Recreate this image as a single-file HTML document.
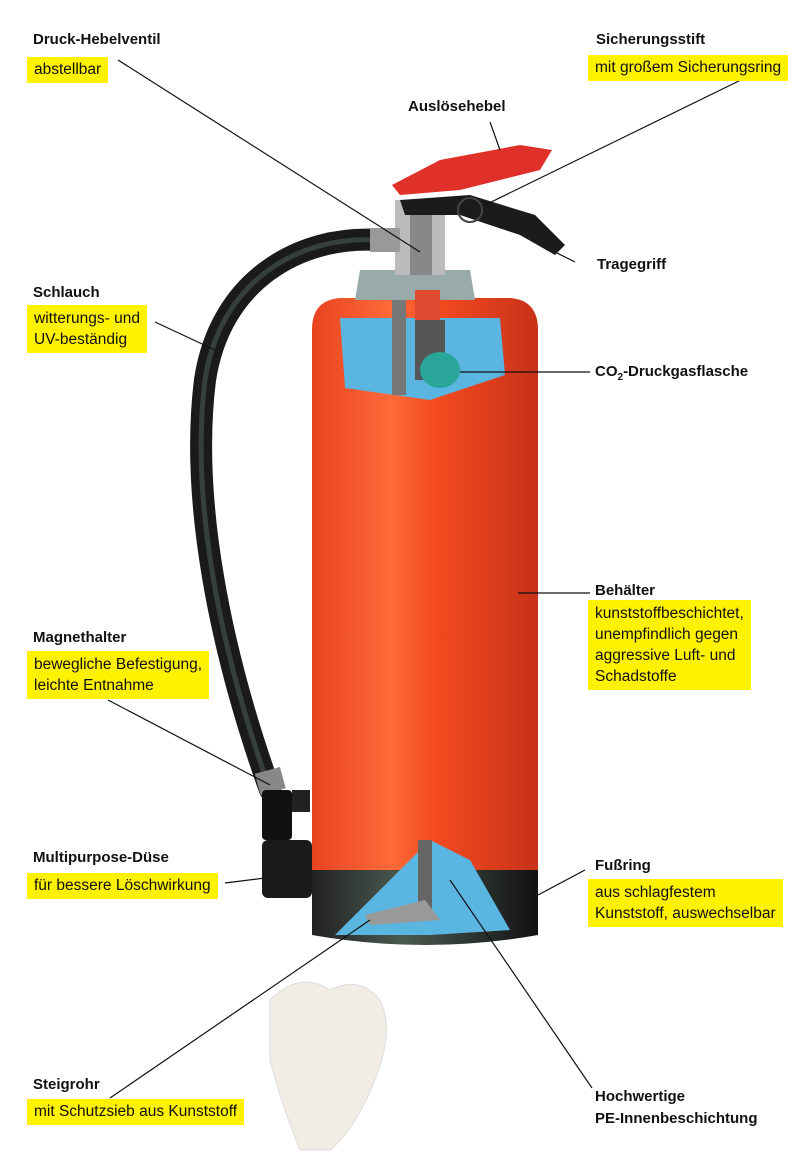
<!DOCTYPE html>
<html><head><meta charset="utf-8"><style>
html,body{margin:0;padding:0;background:#fff;}
body{width:800px;height:1152px;position:relative;overflow:hidden;font-family:"Liberation Sans",sans-serif;}
.t{position:absolute;font-weight:bold;font-size:15px;color:#111;line-height:18px;white-space:nowrap;}
.y{position:absolute;background:#fff200;font-size:15.5px;color:#111;line-height:20px;padding:3px 7px;white-space:nowrap;}
svg{position:absolute;left:0;top:0;}
</style></head><body>
<svg width="800" height="1152" viewBox="0 0 800 1152">
<defs>
<linearGradient id="red" x1="0" x2="1">
<stop offset="0" stop-color="#e8431f"/><stop offset="0.35" stop-color="#ff6a3a"/><stop offset="0.55" stop-color="#f24a1e"/><stop offset="1" stop-color="#c8321a"/>
</linearGradient>
<linearGradient id="blk" x1="0" x2="1"><stop offset="0" stop-color="#222"/><stop offset="0.4" stop-color="#4a5a50"/><stop offset="1" stop-color="#111"/></linearGradient>
</defs>
<path d="M378 240 C300 235 220 280 205 380 C190 500 220 650 270 790" fill="none" stroke="#1a1a1a" stroke-width="22" stroke-linecap="round"/>
<path d="M378 240 C300 235 220 280 205 380 C190 500 220 650 270 790" fill="none" stroke="#4a5a50" stroke-width="5" opacity="0.6"/>
<rect x="257" y="770" width="26" height="22" fill="#888" transform="rotate(-15 270 780)"/>
<rect x="262" y="790" width="30" height="50" fill="#111" rx="4"/>
<rect x="292" y="790" width="18" height="22" fill="#222"/>
<rect x="262" y="840" width="50" height="58" rx="6" fill="#1a1a1a"/>
<path d="M312 330 Q312 300 340 298 L510 298 Q538 300 538 330 L538 880 L312 880 Z" fill="url(#red)"/>
<path d="M312 870 L538 870 L538 935 Q425 955 312 935 Z" fill="url(#blk)"/>
<path d="M340 318 L500 318 L505 375 L430 400 L345 388 Z" fill="#5ab5e0"/>
<rect x="415" y="320" width="30" height="60" fill="#555"/>
<ellipse cx="440" cy="370" rx="20" ry="18" fill="#2aa59a"/>
<rect x="392" y="300" width="14" height="95" fill="#777"/>
<path d="M335 935 L430 840 L470 860 L510 930 L430 935 Z" fill="#5ab5e0"/>
<rect x="418" y="840" width="14" height="70" fill="#666"/>
<path d="M365 915 L425 900 L440 920 L370 925 Z" fill="#999"/>
<path d="M360 270 L470 270 L475 300 L355 300 Z" fill="#9aa"/>
<rect x="395" y="200" width="50" height="75" fill="#bbb"/>
<rect x="410" y="215" width="22" height="60" fill="#888"/>
<rect x="415" y="290" width="25" height="30" fill="#e04a30"/>
<rect x="370" y="228" width="30" height="24" fill="#999"/>
<path d="M392 185 L440 160 L520 145 L552 150 L540 170 L460 190 L400 195 Z" fill="#e0302a"/>
<path d="M400 200 L470 195 L535 215 L565 245 L555 255 L520 235 L460 215 L405 215 Z" fill="#1b1b1b"/>
<circle cx="470" cy="210" r="12" fill="none" stroke="#444" stroke-width="2"/>
<path d="M270 1000 Q300 970 330 990 Q360 975 380 1000 Q395 1030 375 1080 Q355 1130 330 1150 L300 1150 Q280 1100 270 1060 Z" fill="#f1ece4" stroke="#ddd"/>
<g stroke="#111" stroke-width="1.2" fill="none">
<line x1="118" y1="60" x2="420" y2="252"/>
<line x1="745" y1="78" x2="485" y2="205"/>
<line x1="490" y1="122" x2="500" y2="150"/>
<line x1="575" y1="262" x2="555" y2="252"/>
<line x1="155" y1="322" x2="215" y2="350"/>
<line x1="460" y1="372" x2="590" y2="372"/>
<line x1="518" y1="593" x2="590" y2="593"/>
<line x1="108" y1="700" x2="270" y2="785"/>
<line x1="225" y1="883" x2="265" y2="878"/>
<line x1="538" y1="895" x2="585" y2="870"/>
<line x1="110" y1="1098" x2="370" y2="920"/>
<line x1="450" y1="880" x2="592" y2="1088"/>
</g>
</svg>
<div class="t" style="left:33px;top:31px">Druck-Hebelventil</div>
<div class="y" style="left:27px;top:57px">abstellbar</div>
<div class="t" style="left:596px;top:31px">Sicherungsstift</div>
<div class="y" style="left:588px;top:55px">mit großem Sicherungsring</div>
<div class="t" style="left:408px;top:98px">Auslösehebel</div>
<div class="t" style="left:597px;top:256px">Tragegriff</div>
<div class="t" style="left:33px;top:284px">Schlauch</div>
<div class="y" style="left:27px;top:305px;line-height:21px">witterungs- und<br>UV-beständig</div>
<div class="t" style="left:595px;top:363px">CO<sub style="font-size:10px">2</sub>-Druckgasflasche</div>
<div class="t" style="left:595px;top:582px">Behälter</div>
<div class="y" style="left:588px;top:600px;line-height:21px">kunststoffbeschichtet,<br>unempfindlich gegen<br>aggressive Luft- und<br>Schadstoffe</div>
<div class="t" style="left:33px;top:629px">Magnethalter</div>
<div class="y" style="left:27px;top:651px;line-height:21px">bewegliche Befestigung,<br>leichte Entnahme</div>
<div class="t" style="left:33px;top:849px">Multipurpose-Düse</div>
<div class="y" style="left:27px;top:873px">für bessere Löschwirkung</div>
<div class="t" style="left:595px;top:857px">Fußring</div>
<div class="y" style="left:588px;top:879px;line-height:21px">aus schlagfestem<br>Kunststoff, auswechselbar</div>
<div class="t" style="left:33px;top:1076px">Steigrohr</div>
<div class="y" style="left:27px;top:1099px">mit Schutzsieb aus Kunststoff</div>
<div class="t" style="left:595px;top:1086px;line-height:22px">Hochwertige<br>PE-Innenbeschichtung</div>
</body></html>
